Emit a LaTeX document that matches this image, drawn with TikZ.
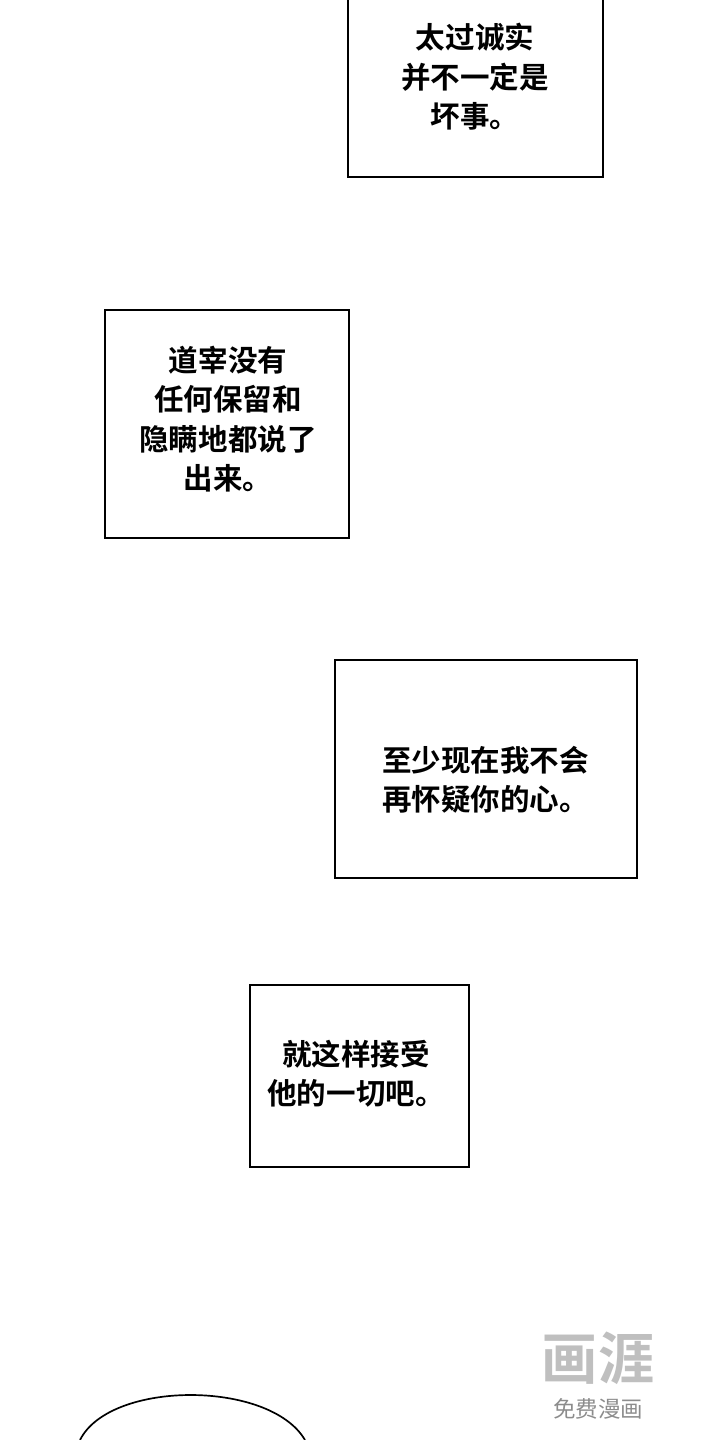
\documentclass[tikz,border=0pt]{standalone}
\usepackage{fontspec}
\newfontfamily\cjk{Noto Sans CJK SC}[BoldFont={Noto Sans CJK SC Bold}]
\begin{document}
\begin{tikzpicture}[x=0.025cm, y=-0.025cm,
				panel/.style = {draw, line width=1.2pt},
				words/.style = {font=\cjk\bfseries\fontsize{21}{28}\selectfont, align=center, inner sep=0pt},
			]
			\path[use as bounding box] (0,0) rectangle (720,1440);
			% caption boxes
			\draw[panel] (348,-5) rectangle (603,177);
			\node[words] (honest) at (475,77) {太过诚实\\并不一定是\\坏事。};
			\draw[panel] (105,310) rectangle (349,538);
			\node[words] (told) at (228,419) {道宰没有\\任何保留和\\隐瞒地都说了\\出来。};
			\draw[panel] (335,660) rectangle (637,878);
			\node[words, align=left, anchor=west] (doubt) at (382,780) {至少现在我不会\\再怀疑你的心。};
			\draw[panel] (250,985) rectangle (469,1167);
			\node[words] (accept) at (356,1074) {就这样接受\\他的一切吧。};
			% head at the bottom
			\draw[line width=1.2pt] (80,1440) .. controls (110,1380) and (270,1380) .. (305,1440);
			% watermark
			\node[font=\cjk\bfseries\fontsize{40}{40}\selectfont, text=black!25, inner sep=0pt] (logo) at (598,1358) {画涯};
			\node[font=\cjk\fontsize{16}{16}\selectfont, text=black!45, inner sep=0pt] (free) at (598,1409) {免费漫画};
		\end{tikzpicture}
\end{document}
